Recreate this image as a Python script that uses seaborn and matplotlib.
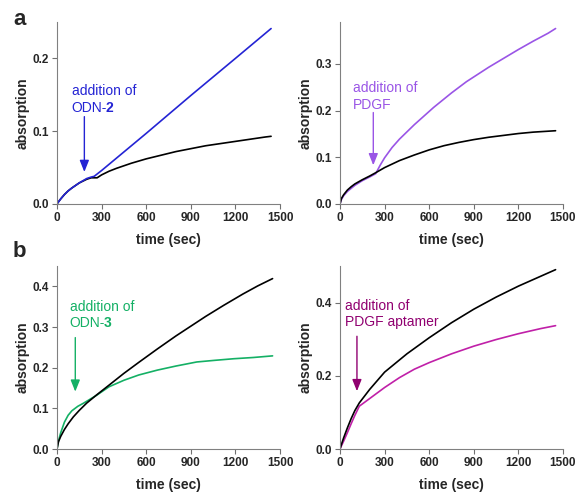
import pandas as pd
import matplotlib
matplotlib.use("Agg")
import matplotlib.pyplot as plt
import seaborn as sns

# ---- values ----
# panel a, left: addition of ODN-2
t_a1_black = [0, 10, 25, 50, 75, 100, 150, 200, 230, 250, 270, 300, 350, 400, 500, 600, 700, 800, 900, 1000, 1100, 1200, 1300, 1400, 1440]
y_a1_black = [0, 0.003, 0.007, 0.013, 0.018, 0.022, 0.029, 0.034, 0.036, 0.036, 0.036, 0.040, 0.045, 0.049, 0.056, 0.062, 0.067, 0.072, 0.076, 0.080, 0.083, 0.086, 0.089, 0.092, 0.093]
t_a1_col = [0, 10, 25, 50, 75, 100, 150, 200, 230, 250, 300, 600, 900, 1200, 1440]
y_a1_col = [0, 0.003, 0.007, 0.013, 0.018, 0.022, 0.029, 0.035, 0.037, 0.038, 0.046, 0.097, 0.149, 0.200, 0.241]

# panel a, right: addition of PDGF
t_a2_black = [0, 10, 25, 50, 75, 100, 150, 200, 240, 300, 400, 500, 600, 700, 800, 900, 1000, 1100, 1200, 1300, 1400, 1450]
y_a2_black = [0, 0.012, 0.020, 0.030, 0.037, 0.043, 0.052, 0.060, 0.067, 0.078, 0.093, 0.105, 0.116, 0.125, 0.132, 0.138, 0.143, 0.147, 0.151, 0.154, 0.156, 0.157]
t_a2_col = [0, 10, 25, 50, 100, 150, 200, 240, 270, 300, 350, 400, 500, 630, 750, 850, 1000, 1100, 1200, 1300, 1400, 1450]
y_a2_col = [0, 0.010, 0.018, 0.027, 0.040, 0.050, 0.058, 0.065, 0.083, 0.099, 0.121, 0.139, 0.170, 0.207, 0.238, 0.262, 0.293, 0.312, 0.331, 0.349, 0.366, 0.376]

# panel b, left: addition of ODN-3
t_b1_black = [0, 10, 25, 50, 75, 110, 150, 200, 270, 350, 450, 550, 675, 800, 900, 1000, 1120, 1250, 1350, 1450]
y_b1_black = [0, 0.018, 0.031, 0.048, 0.062, 0.079, 0.095, 0.113, 0.134, 0.157, 0.186, 0.213, 0.246, 0.278, 0.302, 0.326, 0.353, 0.381, 0.401, 0.419]
t_b1_col = [0, 10, 25, 50, 75, 100, 140, 180, 270, 350, 450, 550, 675, 800, 940, 1060, 1190, 1320, 1450]
y_b1_col = [0, 0.020, 0.040, 0.066, 0.083, 0.094, 0.105, 0.113, 0.133, 0.153, 0.169, 0.182, 0.194, 0.204, 0.214, 0.218, 0.222, 0.225, 0.229]

# panel b, right: addition of PDGF aptamer
t_b2_black = [0, 10, 25, 50, 75, 100, 130, 200, 300, 450, 600, 750, 900, 1050, 1200, 1350, 1450]
y_b2_black = [0, 0.013, 0.031, 0.058, 0.083, 0.105, 0.126, 0.163, 0.210, 0.260, 0.304, 0.345, 0.382, 0.415, 0.445, 0.472, 0.490]
t_b2_col = [0, 10, 25, 50, 75, 100, 130, 200, 300, 400, 500, 600, 750, 900, 1050, 1200, 1350, 1450]
y_b2_col = [0, 0.009, 0.022, 0.045, 0.069, 0.092, 0.117, 0.138, 0.168, 0.195, 0.218, 0.236, 0.260, 0.281, 0.299, 0.315, 0.329, 0.337]

ylims = [0.25, 0.39, 0.45, 0.50]
yticks = [[0.0, 0.1, 0.2], [0.0, 0.1, 0.2, 0.3], [0.0, 0.1, 0.2, 0.3, 0.4], [0.0, 0.2, 0.4]]
xticks = [0, 300, 600, 900, 1200, 1500]
line_colors = ["#2424d4", "#9a55e6", "#14b065", "#c020a8"]
text_colors = ["#2424d4", "#9a55e6", "#14b065", "#900070"]
line1 = ["addition of"] * 4
line2 = [("ODN-", "2"), ("PDGF", None), ("ODN-", "3"), ("PDGF aptamer", None)]
# (x, baseline of line 1, baseline of line 2)
text_pos = [(99, 0.150, 0.127), (85, 0.239, 0.204), (85, 0.339, 0.300), (34, 0.381, 0.336)]
# (x, start y, tip y)
arrows = [(184, 0.120, 0.044), (224, 0.196, 0.083), (123, 0.274, 0.141), (114, 0.308, 0.158)]

panels = [
    (t_a1_black, y_a1_black, t_a1_col, y_a1_col),
    (t_a2_black, y_a2_black, t_a2_col, y_a2_col),
    (t_b1_black, y_b1_black, t_b1_col, y_b1_col),
    (t_b2_black, y_b2_black, t_b2_col, y_b2_col),
]

sns.set_style("ticks")
plt.rcParams["font.family"] = ["Liberation Sans", "DejaVu Sans"]

W, H = 579, 492
fig = plt.figure(figsize=(W / 100, H / 100), dpi=100)
rects = [
    [57 / W, 288 / H, 223 / W, 182 / H],
    [340 / W, 288 / H, 223 / W, 182 / H],
    [57 / W, 43 / H, 223 / W, 183 / H],
    [340 / W, 43 / H, 223 / W, 183 / H],
]

renderer = fig.canvas.get_renderer()

for i, (tb, yb, tc, yc) in enumerate(panels):
    ax = fig.add_axes(rects[i])
    df_b = pd.DataFrame({"time": tb, "abs": yb})
    df_c = pd.DataFrame({"time": tc, "abs": yc})
    if i == 0:
        sns.lineplot(data=df_b, x="time", y="abs", color="black", lw=1.2, ax=ax)
        sns.lineplot(data=df_c, x="time", y="abs", color=line_colors[i], lw=1.2, ax=ax)
    else:
        sns.lineplot(data=df_c, x="time", y="abs", color=line_colors[i], lw=1.2, ax=ax)
        sns.lineplot(data=df_b, x="time", y="abs", color="black", lw=1.2, ax=ax)

    ax.set_xlim(0, 1500)
    ax.set_ylim(0, ylims[i])
    ax.set_xticks(xticks)
    ax.set_yticks(yticks[i])
    ax.set_yticklabels([f"{v:.1f}" for v in yticks[i]])
    ax.set_xlabel("time (sec)", fontsize=10, fontweight="bold", labelpad=7)
    ax.set_ylabel("absorption", fontsize=10, fontweight="bold", labelpad=2)
    for lab in ax.get_xticklabels() + ax.get_yticklabels():
        lab.set_fontweight("bold")
    ax.tick_params(labelsize=8.5, length=3.5, width=0.8, color="#707070", pad=2)
    sns.despine(ax=ax)
    for s in ["left", "bottom"]:
        ax.spines[s].set_color("#808080")
        ax.spines[s].set_linewidth(0.8)

    tx, ty1, ty2 = text_pos[i]
    c = text_colors[i]
    ax.text(tx, ty1, line1[i], color=c, fontsize=10, ha="left", va="baseline")
    txt, bold = line2[i]
    t2 = ax.text(tx, ty2, txt, color=c, fontsize=10, ha="left", va="baseline")
    if bold:
        # bold number right after "ODN-"
        bb = t2.get_window_extent(renderer=renderer)
        x_end = ax.transData.inverted().transform((bb.x1 - 1.5, bb.y0))[0]
        ax.text(x_end, ty2, bold, color=c, fontsize=10, fontweight="bold", ha="left", va="baseline")

    ax_x, y0, y1 = arrows[i]
    ax.annotate("", xy=(ax_x, y1), xytext=(ax_x, y0),
                arrowprops=dict(arrowstyle="-|>,head_width=0.28,head_length=0.7",
                                color=c, lw=1.0, shrinkA=0, shrinkB=0))

fig.text(13 / W, 1 - 25 / H, "a", fontsize=16, fontweight="bold", ha="left", va="baseline")
fig.text(13 / W, 1 - 257 / H, "b", fontsize=16, fontweight="bold", ha="left", va="baseline")

fig.savefig("out.png", dpi=100)
